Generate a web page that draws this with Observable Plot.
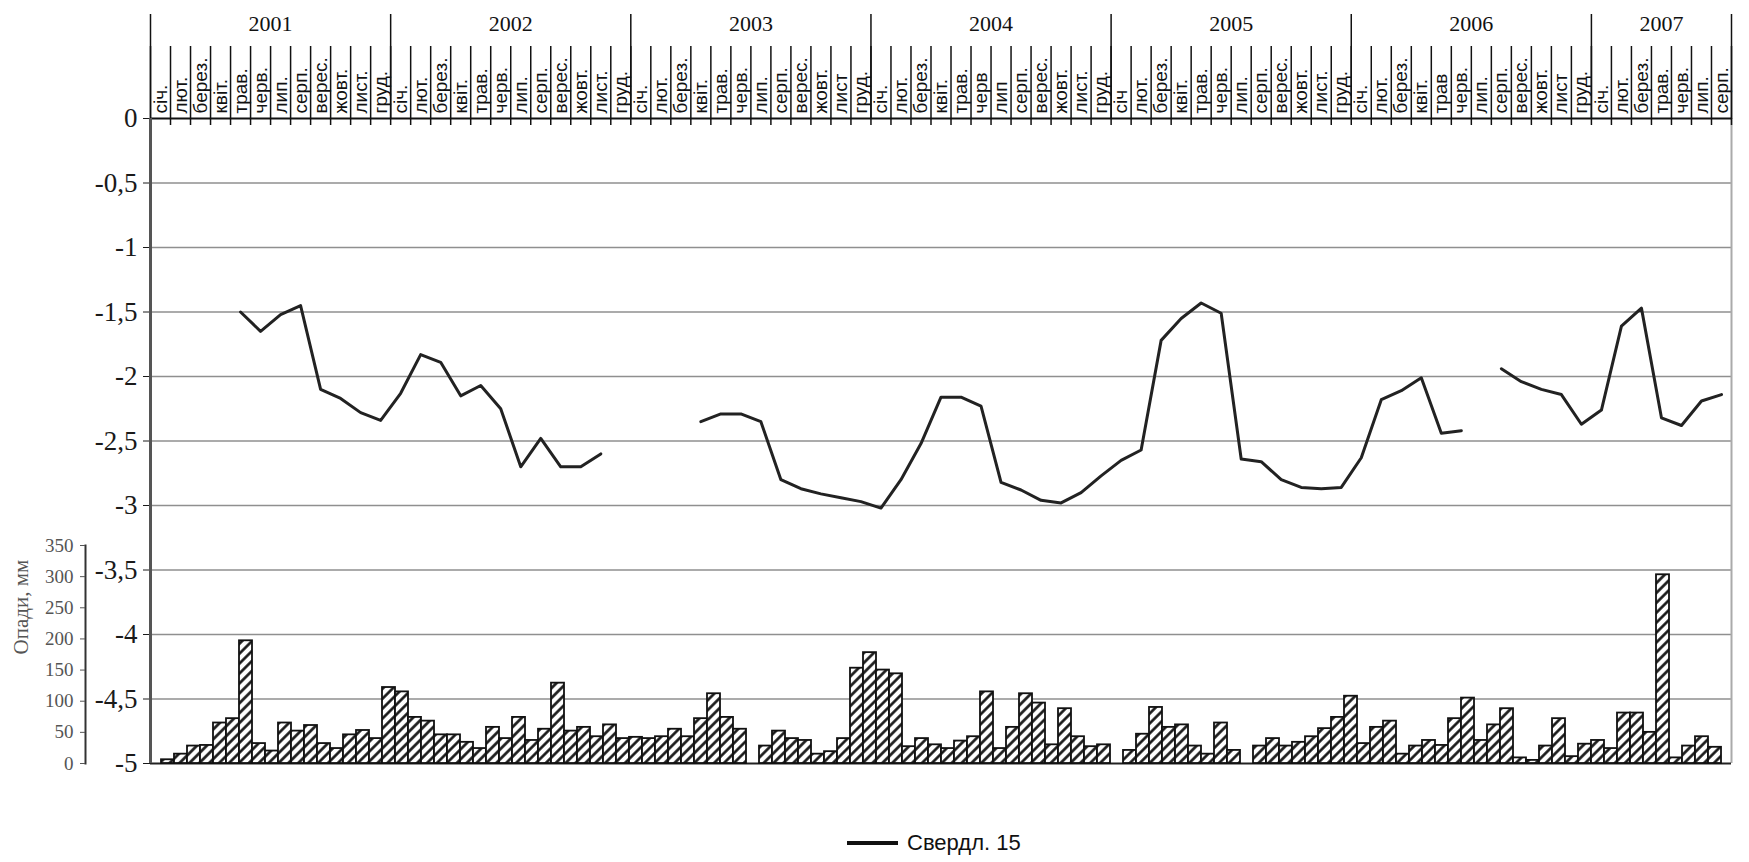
<!DOCTYPE html>
<html>
<head>
<meta charset="utf-8">
<script src="https://cdn.jsdelivr.net/npm/d3@7"></script>
<script src="https://cdn.jsdelivr.net/npm/@observablehq/plot@0.6"></script>
<style>
  body { margin: 0; background: #fff; }
  #wrap { position: relative; width: 1749px; height: 862px; overflow: hidden; }
  #wrap svg { position: absolute; left: 0; top: 0; }
  #legend { position: absolute; left: 847px; top: 830px; height: 26px; display: flex; align-items: center;
            font-family: "Liberation Sans", Arial, sans-serif; font-size: 22px; color: #111; line-height: 26px; }
  #legend .sw { display: inline-block; width: 51px; height: 4px; background: #111; margin-right: 9px; }
</style>
</head>
<body>
<div id="wrap"><div id="legend"><span class="sw"></span><span>Свердл. 15</span></div></div>
<script>
// ---------- data ----------
const years = ["2001", "2002", "2003", "2004", "2005", "2006", "2007"];
const yearMonthCounts = [12, 12, 12, 12, 12, 12, 7];

const monthLabels = [
  "січ.","лют.","берез.","квіт.","трав.","черв.","лип.","серп.","верес.","жовт.","лист.","груд.",
  "січ.","лют.","берез.","квіт.","трав.","черв.","лип.","серп.","верес.","жовт.","лист.","груд.",
  "січ.","лют.","берез.","квіт.","трав.","черв.","лип.","серп.","верес.","жовт.","лист","груд.",
  "січ.","лют.","берез.","квіт.","трав.","черв","лип","серп.","верес.","жовт.","лист.","груд.",
  "січ","лют.","берез.","квіт.","трав.","черв.","лип.","серп.","верес.","жовт.","лист.","груд.",
  "січ.","лют.","берез.","квіт.","трав","черв.","лип.","серп.","верес.","жовт.","лист","груд.",
  "січ.","лют.","берез.","трав.","черв.","лип.","серп."
];

// groundwater level, m (Свердл. 15), one value per month cell
const level = [
  null, null, null, null, -1.50, -1.65, -1.52, -1.45, -2.10, -2.17, -2.28, -2.34,
  -2.13, -1.83, -1.89, -2.15, -2.07, -2.25, -2.70, -2.48, -2.70, -2.70, -2.60, null,
  null, null, null, -2.35, -2.29, -2.29, -2.35, -2.80, -2.87, -2.91, -2.94, -2.97,
  -3.02, -2.80, -2.52, -2.16, -2.16, -2.23, -2.82, -2.88, -2.96, -2.98, -2.90, -2.77,
  -2.65, -2.57, -1.72, -1.55, -1.43, -1.51, -2.64, -2.66, -2.80, -2.86, -2.87, -2.86,
  -2.63, -2.18, -2.11, -2.01, -2.44, -2.42, null, -1.94, -2.04, -2.10, -2.14, -2.37,
  -2.26, -1.61, -1.47, -2.32, -2.38, -2.19, -2.14
];

// precipitation, mm (bars)
const precip = [
  6, 15, 28, 29, 65, 72, 197, 32, 20, 65, 52, 61,
  32, 24, 46, 53, 40, 122, 115, 74, 68, 46, 46, 34,
  24, 58, 40, 74, 37, 55, 129, 52, 58, 43, 62, 40,
  42, 40, 43, 55, 43, 72, 112, 74, 55, 0, 28, 52,
  40, 37, 15, 19, 40, 153, 178, 150, 144, 27, 40, 30,
  24, 36, 43, 115, 24, 58, 112, 97, 30, 88, 43, 27,
  30, 0, 21, 47, 90, 58, 62, 28, 15, 65, 21, 0,
  28, 40, 28, 34, 43, 56, 74, 108, 32, 58, 68, 15,
  28, 37, 29, 72, 105, 37, 62, 88, 9, 5, 28, 72,
  11, 31, 37, 24, 81, 81, 50, 303, 9, 28, 43, 26
];

const levelTicks = d3.range(11).map(k => -k / 2);
const precipTicks = d3.range(0, 351, 50);

// ---------- derived tables ----------
const nM = monthLabels.length;
const months = monthLabels.map((label, i) => ({i, label, level: level[i]}));
let acc = 0;
const yearRows = years.map((year, k) => { const start = acc; acc += yearMonthCounts[k]; return {year, start, end: acc}; });
const monthBounds = d3.range(nM + 1);
const yearBounds = [0, ...yearRows.map(d => d.end)];
const bars = precip.map((v, i) => ({i, v}));

const serif = '"Liberation Serif", "Times New Roman", serif';
const sans = '"Liberation Sans", Arial, sans-serif';
const fmt = d => (d === 0 ? "0" : String(d).replace(".", ","));
const W = 1749, H = 800;

// ---------- level chart ----------
const levelPlot = Plot.plot({
  width: W, height: H,
  marginLeft: 150, marginRight: 18, marginTop: 118, marginBottom: 37,
  style: {background: "transparent", fontFamily: serif, overflow: "visible"},
  x: {domain: [0, nM], axis: null},
  y: {domain: [-5, 0], axis: null},
  marks: [
    Plot.gridY(levelTicks.filter(v => v < 0 && v > -5), {stroke: "#8f8f8f", strokeOpacity: 1, strokeWidth: 1.5}),
    Plot.ruleX([nM], {stroke: "#aaaaaa", strokeWidth: 2}),
    Plot.ruleY([-5], {stroke: "#222", strokeWidth: 2}),
    Plot.axisY(levelTicks, {anchor: "left", tickSize: 7, tickPadding: 6, tickFormat: fmt,
      fontSize: 27, fontFamily: serif, color: "#1a1a1a", label: null}),
    Plot.axisX(monthBounds, {anchor: "top", tickSize: 73, tickFormat: () => "", label: null, color: "#111", strokeWidth: 1.5}),
    Plot.axisX(yearBounds, {anchor: "top", tickSize: 105, tickFormat: () => "", label: null, color: "#111", strokeWidth: 1.5}),
    Plot.axisX(monthBounds, {anchor: "top", tickSize: -6, tickFormat: () => "", label: null, color: "#111", strokeWidth: 1.5}),
    Plot.text(months, {x: d => d.i + 0.5, text: "label", frameAnchor: "top", rotate: -90, textAnchor: "start",
      lineAnchor: "middle", dy: -5, fontSize: 19, fontFamily: sans, fill: "#111"}),
    Plot.text(yearRows, {x: d => (d.start + d.end) / 2, text: "year", frameAnchor: "top", lineAnchor: "middle",
      dy: -95, fontSize: 22, fontFamily: serif, fill: "#111"}),
    Plot.ruleY([0], {stroke: "#111", strokeWidth: 2}),
    Plot.ruleX([0], {stroke: "#555", strokeWidth: 3}),
    Plot.line(months, {x: d => d.i + 0.5, y: "level", stroke: "#222", strokeWidth: 3, strokeLinejoin: "round"})
  ]
});

// ---------- precipitation bars ----------
const barPlot = Plot.plot({
  width: W, height: H,
  marginLeft: 85, marginRight: 18, marginTop: 545, marginBottom: 37,
  style: {background: "transparent", fontFamily: serif, overflow: "visible"},
  x: {type: "band", domain: d3.range(precip.length), range: [151, 1731], padding: 0, axis: null},
  y: {domain: [0, 350], axis: null},
  marks: [
    Plot.barY(bars, {x: "i", y: "v", fill: "url(#hatch)", stroke: "#111", strokeWidth: 1.8}),
    Plot.frame({anchor: "left", stroke: "#333", strokeWidth: 2}),
    Plot.axisY(precipTicks, {anchor: "left", tickSize: 5, tickPadding: 7, fontSize: 19, fontFamily: serif,
      color: "#555", label: null}),
    Plot.text(["Опади, мм"], {frameAnchor: "left", rotate: -90, dx: -64, fontSize: 21, fontFamily: serif, fill: "#555"})
  ]
});

// hatch pattern (wide upward diagonal)
const NS = "http://www.w3.org/2000/svg";
const defs = document.createElementNS(NS, "defs");
const pat = document.createElementNS(NS, "pattern");
pat.setAttribute("id", "hatch");
pat.setAttribute("width", "7");
pat.setAttribute("height", "7");
pat.setAttribute("patternUnits", "userSpaceOnUse");
pat.setAttribute("patternTransform", "rotate(45)");
const bg = document.createElementNS(NS, "rect");
bg.setAttribute("width", "7"); bg.setAttribute("height", "7"); bg.setAttribute("fill", "#fff");
const ln = document.createElementNS(NS, "line");
ln.setAttribute("x1", "1.5"); ln.setAttribute("y1", "0"); ln.setAttribute("x2", "1.5"); ln.setAttribute("y2", "7");
ln.setAttribute("stroke", "#111"); ln.setAttribute("stroke-width", "2.6");
pat.appendChild(bg); pat.appendChild(ln); defs.appendChild(pat);
barPlot.insertBefore(defs, barPlot.firstChild);

const wrap = document.getElementById("wrap");
wrap.insertBefore(barPlot, wrap.firstChild);
wrap.insertBefore(levelPlot, wrap.firstChild);
</script>
</body>
</html>
